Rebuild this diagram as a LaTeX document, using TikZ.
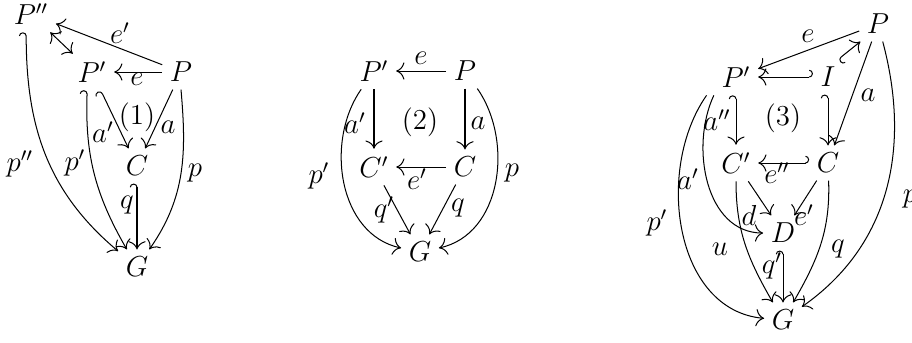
\documentclass[tikz,border=0pt,12pt]{standalone}
\usetikzlibrary{arrows.meta}
\begin{document}
\begin{tikzpicture}[x=0.415pt,y=-0.415pt,
  ob/.style={inner sep=3pt},
  lab/.style={inner sep=0pt},
  ar/.style={-{To[scale=1.35]}, line width=0.42pt},
  hk/.style={{Hooks[left,width=6pt,length=1.5pt]}-{To[scale=1.35]}, line width=0.42pt},
  da/.style={{To[scale=1.35]}-{To[scale=1.35]}, line width=0.42pt}]
\useasboundingbox (0,0) rectangle (912,342);
% ---------- diagram 1 ----------
\node[ob] (P1pp) at (31,14) {$P''$};
\node[ob] (P1p) at (92,72) {$P'$};
\node[ob] (P1) at (181,72) {$P$};
\node[ob] (C1) at (137,166) {$C$};
\node[ob] (G1) at (137,267) {$G$};
\draw[ar] (P1) -- (P1pp);
\draw[da] (P1pp) -- (P1p);
\draw[ar] (P1) -- (P1p);
\draw[hk] (P1p) -- (C1);
\draw[ar] (P1) -- (C1);
\draw[hk] ([xshift=-2pt]P1pp.south) to[out=-90,in=140] (G1);
\draw[hk] ([xshift=-2pt]P1p.south) to[out=-92,in=120] (G1);
\draw[ar] (P1.south) to[out=-85,in=55] (G1);
\draw[hk] (C1) -- (G1);
\node[lab] (l1ep) at (120,33) {$e'$};
\node[lab] (l1e) at (137,79) {$e$};
\node[lab] (l1ap) at (103,132) {$a'$};
\node[lab] (l1a) at (168,127) {$a$};
\node[lab] (l1ppp) at (20,164) {$p''$};
\node[lab] (l1pp) at (75,163) {$p'$};
\node[lab] (l1p) at (195,173) {$p$};
\node[lab] (l1q) at (127,205) {$q$};
\node[lab] (l1n) at (137,117) {$(1)$};
% ---------- diagram 2 ----------
\node[ob] (P2p) at (374,71) {$P'$};
\node[ob] (P2) at (465,71) {$P$};
\node[ob] (C2p) at (374,167) {$C'$};
\node[ob] (C2) at (465,167) {$C$};
\node[ob] (G2) at (420,252) {$G$};
\draw[ar] (P2) -- (P2p);
\draw[ar] (P2p) -- (C2p);
\draw[ar] (P2) -- (C2);
\draw[ar] (C2) -- (C2p);
\draw[ar] (C2p) -- (G2);
\draw[ar] (C2) -- (G2);
\draw[ar] (P2p) to[out=-125,in=168] (G2);
\draw[ar] (P2) to[out=-55,in=12] (G2);
\node[lab] (l2e) at (421,58) {$e$};
\node[lab] (l2ap) at (355,123) {$a'$};
\node[lab] (l2a) at (478,123) {$a$};
\node[lab] (l2ep) at (417,179) {$e'$};
\node[lab] (l2qp) at (384,210) {$q'$};
\node[lab] (l2q) at (458,208) {$q$};
\node[lab] (l2pp) at (319,176) {$p'$};
\node[lab] (l2p) at (512,173) {$p$};
\node[lab] (l2n) at (420,122) {$(2)$};
% ---------- diagram 3 ----------
\node[ob] (P3) at (878,24) {$P$};
\node[ob] (P3p) at (736,77) {$P'$};
\node[ob] (I3) at (828,77) {$I$};
\node[ob] (C3p) at (736,163) {$C'$};
\node[ob] (C3) at (828,163) {$C$};
\node[ob] (D3) at (783,233) {$D$};
\node[ob] (G3) at (783,320) {$G$};
\draw[ar] (P3) -- (P3p);
\draw[hk] (I3) -- (P3p);
\draw[hk] (I3.60) -- (P3.225);
\draw[ar] (P3) -- (C3);
\draw[hk] (I3) -- (C3);
\draw[hk] (P3p) -- (C3p);
\draw[hk] (C3) -- (C3p);
\draw[ar] (C3p) -- (D3);
\draw[ar] (C3) -- (D3);
\draw[ar] (P3p.south west) to[out=-115,in=180] (D3);
\draw[ar] ([xshift=-3pt]P3p.south west) to[out=-125,in=175] (G3);
\draw[ar] (C3p) to[out=-90,in=120] (G3);
\draw[ar] (C3) to[out=-88,in=60] (G3);
\draw[hk] (D3) -- (G3);
\draw[ar] (P3) to[out=-75,in=35] (G3);
\node[lab] (l3e) at (808,36) {$e$};
\node[lab] (l3a) at (868,95) {$a$};
\node[lab] (l3app) at (717,120) {$a''$};
\node[lab] (l3epp) at (777,173) {$e''$};
\node[lab] (l3ap) at (688,179) {$a'$};
\node[lab] (l3pp) at (657,223) {$p'$};
\node[lab] (l3d) at (749,215) {$d$};
\node[lab] (l3ep) at (804,215) {$e'$};
\node[lab] (l3u) at (720,249) {$u$};
\node[lab] (l3q) at (838,249) {$q$};
\node[lab] (l3qp) at (772,266) {$q'$};
\node[lab] (l3p) at (910,199) {$p$};
\node[lab] (l3n) at (783,118) {$(3)$};
\end{tikzpicture}
\end{document}
